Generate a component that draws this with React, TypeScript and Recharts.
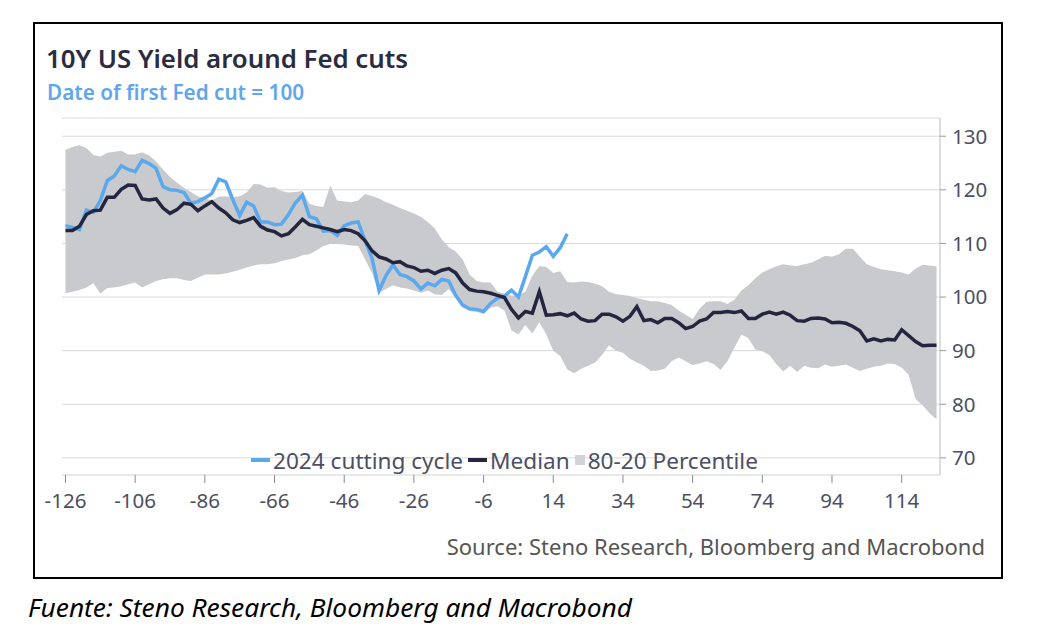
import { ComposedChart, Line, Area, XAxis, YAxis, CartesianGrid } from "recharts";

// Days relative to the first Fed cut
const days = [
  -126, -124, -122, -120, -118, -116, -114, -112, -110, -108, -106, -104, -102, -100,
  -98, -96, -94, -92, -90, -88, -86, -84, -82, -80, -78, -76, -74, -72,
  -70, -68, -66, -64, -62, -60, -58, -56, -54, -52, -50, -48, -46, -44,
  -42, -40, -38, -36, -34, -32, -30, -28, -26, -24, -22, -20, -18, -16,
  -14, -12, -10, -8, -6, -4, -2, 0, 2, 4, 6, 8, 10, 12,
  14, 16, 18, 20, 22, 24, 26, 28, 30, 32, 34, 36, 38, 40,
  42, 44, 46, 48, 50, 52, 54, 56, 58, 60, 62, 64, 66, 68,
  70, 72, 74, 76, 78, 80, 82, 84, 86, 88, 90, 92, 94, 96,
  98, 100, 102, 104, 106, 108, 110, 112, 114, 116, 118, 120, 122, 124,
];

// 2024 cutting cycle (ends a few weeks after the cut)
const cycle2024 = [
  113.3, 113.0, 112.6, 116.2, 115.8, 118.0, 121.7, 122.6, 124.5, 123.8, 123.4, 125.5, 124.9, 124.0,
  120.6, 120.0, 119.9, 119.5, 117.5, 117.8, 118.5, 119.3, 122.0, 121.5, 118.2, 115.2, 117.7, 117.0,
  114.0, 114.0, 113.5, 113.6, 115.4, 117.6, 119.0, 115.0, 114.6, 112.3, 112.4, 111.5, 113.3, 113.8,
  114.0, 110.5, 107.2, 101.2, 104.0, 106.0, 104.2, 103.8, 103.0, 101.5, 102.6, 102.1, 103.3, 103.0,
  100.3, 98.5, 97.8, 97.7, 97.3, 98.8, 99.8, 100.2, 101.3, 100.0, 103.8, 107.8, 108.4, 109.4,
  107.6, 109.2, 111.8,
];

// Median of past cycles
const median = [
  112.4, 112.4, 113.2, 115.4, 116.1, 116.2, 118.6, 118.6, 120.1, 120.9, 120.8, 118.3, 118.1, 118.3,
  116.6, 115.6, 116.3, 117.5, 117.3, 116.1, 117.0, 117.8, 116.6, 115.7, 114.4, 113.9, 114.3, 114.8,
  113.2, 112.5, 112.2, 111.4, 111.8, 113.1, 114.5, 113.5, 113.2, 112.9, 112.6, 112.2, 112.6, 112.4,
  111.8, 110.5, 108.6, 107.5, 107.1, 106.4, 106.6, 105.8, 105.5, 104.8, 105.0, 104.4, 105.0, 105.3,
  104.5, 102.6, 101.4, 101.1, 101.0, 100.7, 100.3, 99.9, 97.7, 96.1, 97.3, 97.0, 101.0, 96.6,
  96.7, 96.9, 96.5, 97.0, 95.9, 95.5, 95.6, 96.8, 96.8, 96.3, 95.5, 96.4, 98.2, 95.6,
  95.8, 95.2, 96.0, 96.0, 95.2, 94.1, 94.5, 95.5, 95.9, 97.1, 97.1, 97.3, 97.1, 97.4,
  96.0, 96.0, 96.8, 97.2, 96.8, 97.2, 96.6, 95.6, 95.5, 96.0, 96.1, 95.9, 95.2, 95.3,
  95.1, 94.5, 93.7, 91.8, 92.2, 91.8, 92.1, 92.0, 93.9, 92.8, 91.7, 90.9, 91.0, 91.0,
];

// 80th percentile
const upper = [
  127.5, 128.0, 128.3, 127.8, 126.5, 126.2, 126.9, 127.1, 127.3, 126.6, 126.6, 127.0, 126.4, 125.3,
  123.8, 122.4, 121.3, 120.4, 119.6, 118.8, 118.4, 118.0, 118.7, 118.8, 118.6, 118.8, 119.5, 121.1,
  121.0, 120.4, 120.5, 119.8, 119.5, 119.6, 119.8, 117.4, 117.0, 116.8, 120.8, 118.0, 117.8, 117.7,
  118.0, 119.2, 118.8, 118.4, 117.7, 117.2, 116.6, 116.1, 115.6, 115.0, 114.0, 112.8, 110.8, 109.3,
  108.5, 107.0, 104.2, 103.0, 102.7, 102.7, 101.0, 100.6, 100.3, 100.3, 101.0, 104.0, 105.8, 105.6,
  104.5, 104.8, 102.8, 102.7, 102.9, 102.8, 102.5, 102.0, 101.0, 100.5, 100.4, 100.2, 99.8, 99.5,
  99.2, 99.2, 98.9, 98.5, 97.5, 96.7, 95.9, 97.8, 99.1, 99.2, 99.2, 98.7, 99.5, 101.2,
  102.2, 103.5, 104.6, 105.2, 105.7, 106.1, 105.9, 105.8, 106.1, 106.4, 107.0, 107.7, 107.5, 108.0,
  109.0, 109.0, 107.5, 106.1, 105.6, 105.2, 105.0, 104.8, 104.6, 104.2, 105.3, 106.0, 105.9, 105.7,
];

// 20th percentile
const lower = [
  100.7, 101.0, 101.3, 101.8, 102.6, 100.6, 101.7, 101.8, 102.0, 102.4, 102.7, 101.8, 102.4, 103.0,
  103.3, 103.5, 103.5, 103.2, 103.0, 103.6, 104.2, 104.2, 104.2, 104.4, 104.7, 105.1, 105.5, 105.9,
  106.1, 106.1, 106.3, 106.7, 107.0, 107.3, 107.8, 108.0, 108.7, 109.5, 109.9, 109.9, 109.8, 109.6,
  109.5, 107.0, 104.5, 100.8, 101.5, 102.2, 101.8, 101.6, 101.2, 100.8, 101.2, 100.5, 100.4, 101.5,
  99.8, 98.2, 97.4, 97.2, 96.9, 98.0, 98.3, 97.5, 93.8, 93.0, 94.8, 93.2, 95.3, 93.0,
  90.0, 89.0, 86.5, 85.8, 86.6, 87.2, 87.8, 89.2, 91.0, 90.0, 89.6, 88.5, 87.8, 87.2,
  86.2, 86.3, 86.6, 88.0, 88.7, 88.0, 87.3, 87.6, 88.0, 87.5, 86.4, 88.0, 90.6, 93.0,
  92.3, 90.2, 89.9, 89.2, 87.5, 86.1, 87.2, 86.0, 87.2, 86.8, 86.7, 87.4, 87.0, 87.2,
  87.4, 86.8, 86.2, 86.6, 87.0, 87.2, 87.6, 87.5, 86.8, 85.5, 81.0, 79.8, 78.3, 77.2,
];

const xTicks = [-126, -106, -86, -66, -46, -26, -6, 14, 34, 54, 74, 94, 114];
const yTicks = [70, 80, 90, 100, 110, 120, 130];

const data = days.map((day, i) => ({
  day,
  cycle2024: i < cycle2024.length ? cycle2024[i] : null,
  median: median[i],
  band: [lower[i], upper[i]],
}));

const BLUE = "#5aa8ee";
const NAVY = "#24263f";
const GREY = "#c9cacd";
const TEXT = "#4c4f63";
const FONT = "'Noto Sans', sans-serif";

const App = () => {
  return (
    <div
      style={{
        position: "absolute",
        left: 0,
        top: 0,
        width: 1062,
        height: 636,
        background: "#fff",
        fontFamily: FONT,
      }}
    >
      {/* Frame */}
      <div
        style={{
          position: "absolute",
          left: 33,
          top: 22,
          width: 966,
          height: 553,
          border: "2px solid #000",
        }}
      />

      {/* Titles */}
      <div
        style={{
          position: "absolute",
          left: 46,
          top: 40,
          fontSize: 25.8,
          fontWeight: 600,
          color: "#2a2c40",
          whiteSpace: "nowrap",
        }}
      >
        10Y US Yield around Fed cuts
      </div>
      <div
        style={{
          position: "absolute",
          left: 47,
          top: 78,
          fontSize: 20.7,
          fontWeight: 600,
          color: "#5fa6ec",
          whiteSpace: "nowrap",
        }}
      >
        Date of first Fed cut = 100
      </div>

      {/* Chart */}
      <div style={{ position: "absolute", left: 0, top: 0 }}>
        <ComposedChart
          width={1062}
          height={636}
          data={data}
          margin={{ top: 118, right: 62, bottom: 121, left: 62 }}
        >
          <CartesianGrid vertical={false} stroke="#d9d9d9" />
          <XAxis
            dataKey="day"
            type="number"
            domain={[-127, 125]}
            ticks={xTicks}
            allowDataOverflow
            height={40}
            axisLine={{ stroke: "#e6e6e6" }}
            tickLine={{ stroke: "#8a8a8a" }}
            tickSize={8}
            tickMargin={10}
            tick={{ fill: TEXT, fontSize: 20.5, fontFamily: FONT }}
          />
          <YAxis
            orientation="right"
            domain={[66.8, 133.4]}
            ticks={yTicks}
            allowDataOverflow
            width={60}
            axisLine={{ stroke: "#bdbdbd" }}
            tickLine={{ stroke: "#9a9a9a" }}
            tickSize={6}
            tickMargin={6}
            tick={{ fill: TEXT, fontSize: 20.5, fontFamily: FONT }}
          />
          <Area
            type="linear"
            dataKey="band"
            fill={GREY}
            fillOpacity={1}
            stroke="none"
            isAnimationActive={false}
          />
          <Line
            type="linear"
            dataKey="cycle2024"
            stroke={BLUE}
            strokeWidth={3.5}
            dot={false}
            connectNulls={false}
            isAnimationActive={false}
          />
          <Line
            type="linear"
            dataKey="median"
            stroke={NAVY}
            strokeWidth={3.5}
            dot={false}
            isAnimationActive={false}
          />
        </ComposedChart>
      </div>

      {/* Legend */}
      <div
        style={{
          position: "absolute",
          left: 251,
          top: 446,
          height: 28,
          display: "flex",
          alignItems: "center",
          fontSize: 22.6,
          color: TEXT,
          whiteSpace: "nowrap",
        }}
      >
        <span style={{ width: 19, height: 4, background: BLUE, marginRight: 3 }} />
        <span style={{ marginRight: 5 }}>2024 cutting cycle</span>
        <span style={{ width: 19, height: 4, background: NAVY, marginRight: 3 }} />
        <span style={{ marginRight: 5 }}>Median</span>
        <span style={{ width: 10, height: 10, background: "#d2d3d6", marginRight: 3 }} />
        <span>80-20 Percentile</span>
      </div>

      {/* Source */}
      <div
        style={{
          position: "absolute",
          right: 1062 - 985,
          top: 531,
          fontSize: 22,
          color: "#555",
          whiteSpace: "nowrap",
        }}
      >
        Source: Steno Research, Bloomberg and Macrobond
      </div>

      {/* Caption below frame */}
      <div
        style={{
          position: "absolute",
          left: 28,
          top: 589,
          fontSize: 26.3,
          fontStyle: "italic",
          color: "#000",
          whiteSpace: "nowrap",
        }}
      >
        Fuente: Steno Research, Bloomberg and Macrobond
      </div>
    </div>
  );
};

export default App;
